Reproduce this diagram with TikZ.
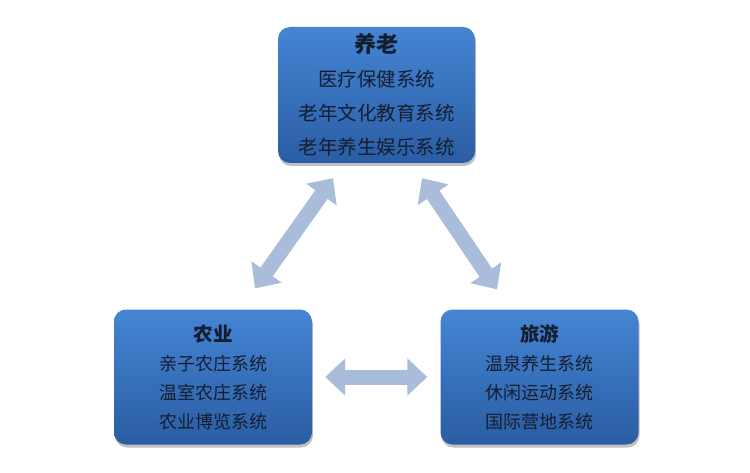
\documentclass[tikz,border=0pt]{standalone}
\usepackage{fontspec}
\newfontfamily\cjk{Noto Sans CJK SC}
\usetikzlibrary{arrows.meta,shadows,calc}
\definecolor{boxtop}{HTML}{4585D4}
\definecolor{boxbot}{HTML}{2A5DA3}
\definecolor{arrowc}{HTML}{A9BCDA}
\definecolor{txt}{HTML}{141E30}
\tikzset{
  sysbox/.style={rounded corners=12pt, top color=boxtop, bottom color=boxbot,
    draw=none, align=center, text=txt, inner sep=0pt,
    drop shadow={shadow xshift=1pt, shadow yshift=-3pt, opacity=0.35, fill=black!70}},
  bigbox/.style={sysbox, minimum width=197pt, minimum height=136pt,
    font=\cjk\fontsize{19.5}{34}\selectfont},
  smallbox/.style={sysbox, minimum width=198pt, minimum height=135pt,
    font=\cjk\fontsize{18}{29}\selectfont},
  bigarrow/.style={line width=15pt, draw=arrowc,
    {Triangle[length=20pt,width=36pt]}-{Triangle[length=20pt,width=36pt]}},
}
\begin{document}
\begin{tikzpicture}[x=1pt,y=-1pt]
\useasboundingbox[fill=white] (0,0) rectangle (750,473);
\node[bigbox] (top) at (376.5,95)
  {{\bfseries\fontsize{22}{34}\selectfont 养老}\\医疗保健系统\\老年文化教育系统\\老年养生娱乐系统};
\node[smallbox] (bl) at (213,377)
  {{\bfseries\fontsize{19.5}{29}\selectfont 农业}\\亲子农庄系统\\温室农庄系统\\农业博览系统};
\node[smallbox] (br) at (539.5,377)
  {{\bfseries\fontsize{19.5}{29}\selectfont 旅游}\\温泉养生系统\\休闲运动系统\\国际营地系统};
\coordinate (l1) at ($(bl.north)+(42,-21)$);
\coordinate (l2) at ($(top.south)+(-43.5,15)$);
\coordinate (r1) at ($(br.north)+(-42.5,-20)$);
\coordinate (r2) at ($(top.south)+(45.5,15)$);
\coordinate (h1) at ($(bl.east)+(13,0)$);
\coordinate (h2) at ($(br.west)+(-13,0)$);
\draw[bigarrow] (l1) -- (l2);
\draw[bigarrow] (r1) -- (r2);
\draw[bigarrow] (h1) -- (h2);
\end{tikzpicture}
\end{document}
